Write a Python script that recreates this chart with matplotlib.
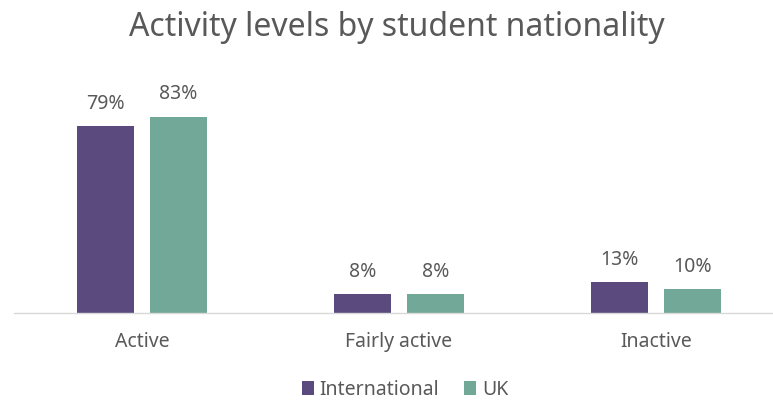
import numpy as np
import matplotlib
matplotlib.use('Agg')
import matplotlib.pyplot as plt

categories = ['Active', 'Fairly active', 'Inactive']
international = [79, 8, 13]
uk = [83, 8, 10]
series_names = ['International', 'UK']

PURPLE = '#5B4A7E'
GREEN = '#72A898'
TEXT = '#595959'

plt.rcParams['font.family'] = ['Noto Sans', 'DejaVu Sans']

W, H = 773, 401
fig = plt.figure(figsize=(W / 100, H / 100), dpi=100)
# axes in pixel terms: baseline at y=313, 1% = 2.37 px, category pitch 257 px
ax = fig.add_axes([13.5 / W, 88 / H, 771 / W, 213 / H])

x = np.arange(len(categories))
bw = 0.222
off = 0.142
b1 = ax.bar(x - off, international, bw, color=PURPLE, label=series_names[0])
b2 = ax.bar(x + off, uk, bw, color=GREEN, label=series_names[1])

for bars, vals in [(b1, international), (b2, uk)]:
    for rect, v in zip(bars, vals):
        ax.annotate(f'{v}%', (rect.get_x() + rect.get_width() / 2, rect.get_height()),
                    xytext=(0, 9), textcoords='offset points', ha='center', va='bottom',
                    fontsize=14, color=TEXT)

ax.set_xlim(-0.5, 2.5)
ax.set_ylim(0, 90)
ax.set_xticks(x)
ax.set_xticklabels(categories, fontsize=14, color=TEXT)
ax.tick_params(axis='x', length=0, pad=14)
ax.set_yticks([])
for s in ['top', 'right', 'left']:
    ax.spines[s].set_visible(False)
ax.spines['bottom'].set_color('#D9D9D9')
ax.spines['bottom'].set_linewidth(1.0)

fig.text(397 / W, 1 - 27 / H, 'Activity levels by student nationality', ha='center', va='center',
         fontsize=23, color=TEXT)

fig.legend(handles=[b1, b2], loc='center', bbox_to_anchor=(405 / W, 1 - 390 / H), ncol=2,
           frameon=False, fontsize=14, labelcolor=TEXT, handlelength=0.6, handleheight=0.7,
           handletextpad=0.3, columnspacing=1.3)

fig.savefig('out.png', dpi=100)
